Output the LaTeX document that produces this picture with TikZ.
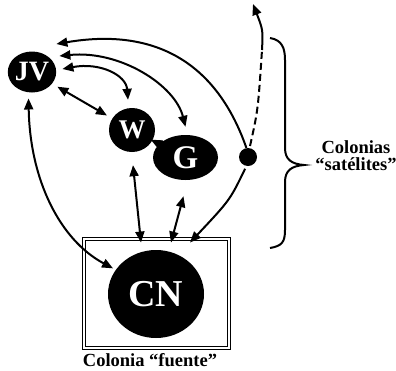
\documentclass[tikz,border=0pt]{standalone}
\usepackage{fontspec}
\setmainfont{Liberation Serif}
\usetikzlibrary{shapes.geometric,arrows.meta,calc}
\begin{document}
\begin{tikzpicture}[x=1pt,y=1pt,
  blob/.style={ellipse, fill=black, inner sep=0pt, text=white},
  tipA/.tip={Triangle[length=11pt,width=9pt]},
  con/.style={line width=2pt, -tipA},
  dbl/.style={line width=2pt, tipA-tipA},
  lbl/.style={font=\bfseries\fontsize{18.5}{17}\selectfont, align=center}]
\useasboundingbox (0,0) rectangle (396,-370);
% source colony box
\node[draw, double, double distance=2pt, line width=0.9pt, minimum width=145pt, minimum height=109pt, inner sep=0pt] (box) at (156.5,-293.5) {};
% colonies
\node[blob, minimum width=46pt, minimum height=41pt, font=\bfseries\fontsize{28}{28}\selectfont] (JV) at (32,-72) {JV};
\node[blob, minimum width=46pt, minimum height=44pt, font=\bfseries\fontsize{27}{27}\selectfont] (W) at (132,-130) {W};
\node[blob, minimum width=65pt, minimum height=45pt, font=\bfseries\fontsize{33}{33}\selectfont] (G) at (185.5,-157.5) {G};
\node[blob, minimum width=96pt, minimum height=88pt, font=\bfseries\fontsize{38}{38}\selectfont] (CN) at (156,-294) {CN};
\node[circle, fill=black, minimum size=18pt, inner sep=0pt] (sat) at (248,-157) {};
\coordinate (bend) at (262,-50);
\coordinate (top) at (253,-4);
% connectors
\draw[dbl, shorten <=6pt, shorten >=6pt] (JV) -- (W);
\draw[dbl, shorten <=21pt, shorten >=18pt] (W.center) -- (G.center);
\draw[dbl] ($(JV.east)+(6,3)$) .. controls (100,-62) and (126,-75) .. ($(W.north)+(-4,8)$);
\draw[dbl] ($(JV.east)+(3,16)$) .. controls (120,-50) and (175,-85) .. ($(G.north)+(0,8)$);
\draw[con] (sat.100) .. controls (215,-58) and (150,-28) .. ($(JV.east)+(0,28)$);
\draw[dbl, shorten <=6pt, shorten >=3pt] (JV.260) .. controls (30,-180) and (60,-240) .. (CN.149);
\draw[dbl] ($(W.south)+(1,-13)$) -- ($(box.north)+(-15.5,-4)$);
\draw[dbl] ($(G.south)+(-2,-16)$) -- ($(box.north)+(14.5,-4)$);
\draw[con, shorten <=3pt] (sat.-100) .. controls (230,-200) .. ($(box.north)+(33.5,-4)$);
\draw[line width=2pt, dash pattern=on 7pt off 4pt, shorten <=2pt] (sat.80) .. controls (258,-110) .. (bend);
\draw[con] (bend) .. controls (263,-30) .. (top);
% brace
\draw[line width=2pt] (270,-38) .. controls (282,-40) and (285,-48) .. (285,-60) -- (285,-148)
  .. controls (285,-160) and (292,-164) .. (304,-165)
  .. controls (292,-166) and (285,-170) .. (285,-182) -- (285,-230)
  .. controls (285,-242) and (282,-246) .. (270,-248);
% labels
\node[lbl] (sattxt) at (356,-155.5) {Colonias\\“satélites”};
\node[lbl, anchor=base] (fuente) at (150,-366) {Colonia “fuente”};
\end{tikzpicture}
\end{document}
